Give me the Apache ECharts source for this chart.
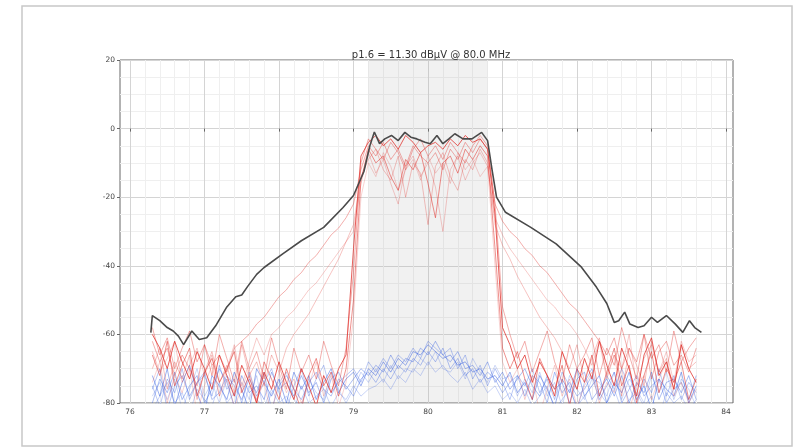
<!DOCTYPE html>
<html><head><meta charset="utf-8">
<script src="https://cdn.jsdelivr.net/npm/echarts@6/dist/echarts.min.js"></script>
<style>html,body{margin:0;padding:0;background:#fff}#c{width:793px;height:448px}</style>
</head><body><div id="c"></div>
<script>
const titleText = 'p1.6 = 11.30 dBµV @ 80.0 MHz';
const xTicks = [76, 77, 78, 79, 80, 81, 82, 83, 84];
const yTicks = [-80, -60, -40, -20, 0, 20];
const band = [79.2, 80.8];

const envFreq = [76.28,76.30,76.40,76.50,76.58,76.65,76.72,76.83,76.93,77.03,77.15,77.30,77.42,77.50,77.58,77.70,77.80,78.05,78.30,78.60,78.86,79.00,79.14,79.22,79.28,79.35,79.42,79.51,79.60,79.69,79.77,79.85,79.96,80.03,80.12,80.20,80.28,80.36,80.47,80.59,80.72,80.80,80.86,80.92,81.04,81.38,81.72,82.06,82.26,82.40,82.50,82.56,82.64,82.71,82.82,82.90,83.00,83.08,83.20,83.32,83.42,83.51,83.58,83.67];
const envVal = [-59.5,-54.5,-56,-58,-59,-60.5,-63,-59,-61.5,-61,-57.5,-52,-49,-48.5,-46,-42.5,-40.5,-36.5,-32.7,-28.8,-23,-19.5,-12.5,-5,-1,-4.4,-3,-2,-3.5,-1.1,-2.5,-3,-4,-4.4,-2,-4.4,-3,-1.5,-3,-3,-1.1,-3.5,-12,-20,-24.4,-28.8,-33.6,-40.4,-46.2,-51,-56.5,-56,-53.5,-57,-58,-57.5,-55,-56.5,-54.5,-57,-59.4,-56,-58,-59.4];

const freqs = [76.3,76.4,76.5,76.6,76.7,76.8,76.9,77.0,77.1,77.2,77.3,77.4,77.5,77.6,77.7,77.8,77.9,78.0,78.1,78.2,78.3,78.4,78.5,78.6,78.7,78.8,78.9,79.0,79.1,79.2,79.3,79.4,79.5,79.6,79.7,79.8,79.9,80.0,80.1,80.2,80.3,80.4,80.5,80.6,80.7,80.8,80.9,81.0,81.1,81.2,81.3,81.4,81.5,81.6,81.7,81.8,81.9,82.0,82.1,82.2,82.3,82.4,82.5,82.6,82.7,82.8,82.9,83.0,83.1,83.2,83.3,83.4,83.5,83.6];

const red1 = [-60,-64,-70,-62,-68,-73,-65,-70,-76,-66,-72,-78,-69,-74,-80,-71,-76,-68,-74,-79,-70,-75,-81,-72,-77,-70,-66,-35,-8,-4,-2,-5,-3,-6,-2,-4,-7,-5,-4,-6,-3,-5,-2,-4,-3,-6,-25,-58,-63,-70,-66,-74,-68,-72,-78,-65,-71,-76,-67,-73,-62,-69,-75,-64,-70,-78,-66,-61,-72,-68,-76,-63,-70,-74];
const red2 = [-66,-72,-62,-75,-69,-64,-78,-71,-67,-74,-70,-65,-77,-72,-80,-68,-73,-79,-70,-76,-82,-72,-67,-75,-71,-78,-70,-50,-15,-6,-10,-8,-14,-18,-9,-12,-7,-16,-26,-10,-8,-13,-6,-9,-5,-8,-35,-64,-70,-65,-73,-79,-67,-72,-76,-69,-81,-70,-74,-66,-78,-71,-64,-75,-69,-80,-72,-65,-77,-70,-74,-68,-79,-73];
const red3 = [-62,-68,-64,-72,-66,-70,-75,-63,-69,-66,-71,-64,-62,-60,-57,-55,-52,-49,-47,-44,-42,-39,-37,-34,-31,-29,-26,-22,-12,-5,-8,-4,-9,-6,-11,-5,-8,-10,-7,-12,-6,-9,-4,-7,-3,-6,-22,-27,-30,-32,-35,-37,-40,-42,-45,-48,-51,-53,-56,-59,-62,-66,-61,-70,-64,-68,-60,-73,-65,-62,-69,-66,-71,-64];
const red4 = [-70,-64,-76,-68,-73,-66,-79,-71,-65,-74,-69,-77,-63,-72,-68,-75,-66,-71,-64,-60,-57,-54,-50,-46,-42,-38,-33,-28,-14,-9,-6,-12,-15,-8,-20,-10,-13,-28,-11,-7,-14,-18,-9,-12,-6,-10,-28,-34,-38,-43,-47,-51,-55,-58,-61,-65,-70,-63,-74,-67,-61,-72,-66,-78,-64,-69,-75,-62,-71,-67,-76,-63,-70,-68];
const red5 = [-65,-71,-67,-62,-74,-69,-64,-72,-66,-78,-70,-63,-75,-68,-61,-66,-60,-58,-55,-53,-50,-47,-45,-42,-39,-36,-33,-30,-16,-7,-13,-9,-16,-22,-11,-8,-14,-10,-17,-30,-12,-8,-15,-10,-7,-11,-26,-31,-35,-38,-41,-44,-47,-50,-52,-55,-57,-60,-64,-69,-62,-73,-66,-70,-60,-75,-67,-63,-71,-65,-74,-62,-68,-66];
const red6 = [-74,-68,-80,-72,-77,-70,-83,-75,-69,-78,-73,-81,-76,-70,-79,-74,-84,-71,-77,-73,-80,-75,-68,-78,-72,-81,-74,-55,-20,-10,-14,-7,-11,-18,-12,-9,-15,-8,-13,-10,-16,-7,-12,-9,-14,-11,-40,-68,-74,-70,-79,-72,-83,-76,-69,-78,-73,-81,-75,-71,-80,-74,-77,-70,-82,-75,-72,-79,-73,-68,-78,-74,-80,-76];
const red7 = [-58,-66,-61,-70,-64,-59,-68,-63,-72,-60,-67,-74,-62,-70,-65,-73,-61,-69,-76,-64,-71,-66,-73,-62,-69,-75,-64,-42,-10,-3,-6,-9,-4,-7,-12,-6,-3,-8,-5,-9,-4,-7,-10,-5,-2,-5,-22,-52,-60,-67,-62,-71,-65,-59,-68,-74,-63,-70,-66,-61,-72,-64,-69,-58,-66,-73,-60,-67,-63,-71,-59,-68,-64,-61];

const blue1 = [-72,-78,-70,-81,-74,-69,-77,-83,-72,-75,-79,-71,-76,-82,-70,-74,-78,-73,-80,-71,-76,-72,-79,-74,-70,-77,-73,-71,-75,-70,-72,-68,-71,-67,-69,-65,-66,-63,-65,-67,-66,-69,-68,-71,-70,-73,-72,-75,-71,-77,-74,-79,-72,-76,-81,-73,-77,-70,-78,-75,-72,-80,-74,-77,-71,-79,-75,-82,-73,-76,-78,-71,-80,-75];
const blue2 = [-80,-73,-77,-71,-79,-75,-72,-80,-76,-70,-74,-81,-72,-77,-75,-79,-71,-76,-74,-78,-72,-77,-74,-80,-73,-71,-76,-73,-70,-72,-69,-71,-66,-70,-67,-68,-64,-66,-62,-66,-68,-65,-70,-69,-72,-68,-74,-71,-76,-73,-70,-75,-78,-72,-76,-74,-80,-73,-71,-79,-76,-73,-78,-72,-80,-74,-77,-71,-79,-74,-73,-77,-72,-79];
const blue3 = [-76,-70,-82,-75,-72,-78,-74,-71,-79,-77,-72,-75,-79,-73,-77,-71,-82,-75,-72,-76,-79,-74,-71,-76,-78,-73,-75,-78,-73,-71,-74,-70,-73,-69,-71,-67,-69,-65,-68,-64,-70,-67,-72,-70,-74,-71,-73,-77,-74,-72,-78,-72,-74,-80,-71,-77,-74,-78,-76,-72,-79,-75,-71,-80,-76,-72,-78,-75,-73,-80,-76,-74,-79,-72];
const blue4 = [-82,-78,-74,-80,-77,-83,-76,-79,-81,-74,-80,-77,-83,-75,-79,-81,-76,-80,-78,-82,-75,-80,-78,-76,-81,-77,-79,-75,-78,-76,-75,-73,-76,-72,-74,-70,-72,-68,-71,-69,-72,-74,-71,-76,-73,-77,-75,-79,-77,-80,-76,-81,-78,-75,-82,-79,-76,-81,-78,-83,-77,-80,-76,-82,-79,-77,-81,-78,-84,-77,-80,-78,-82,-79];
const blue5 = [-75,-81,-73,-77,-70,-79,-74,-72,-78,-69,-76,-73,-80,-71,-78,-74,-70,-77,-82,-75,-70,-78,-73,-69,-77,-74,-72,-70,-74,-68,-71,-67,-70,-66,-68,-64,-67,-62,-64,-66,-64,-70,-66,-73,-69,-75,-70,-74,-79,-72,-75,-70,-77,-73,-79,-71,-75,-82,-74,-70,-78,-72,-76,-70,-75,-81,-73,-77,-70,-78,-72,-79,-74,-77];
const blue6 = [-78,-74,-79,-73,-82,-76,-70,-78,-74,-80,-73,-78,-74,-79,-72,-83,-77,-74,-71,-79,-81,-73,-77,-79,-71,-76,-80,-76,-71,-74,-70,-74,-69,-73,-70,-71,-67,-69,-65,-70,-71,-68,-73,-67,-71,-74,-69,-73,-72,-78,-73,-77,-71,-78,-74,-81,-72,-76,-79,-73,-74,-78,-71,-79,-73,-76,-80,-72,-77,-71,-79,-73,-76,-81];

const reds = [[red1,0.8],[red2,0.55],[red7,0.4],[red3,0.4],[red4,0.3],[red5,0.26],[red6,0.22]];
const blues = [[blue1,0.5],[blue2,0.42],[blue3,0.38],[blue5,0.35],[blue4,0.28],[blue6,0.25]];

const chart = echarts.init(document.getElementById('c'), null, {renderer:'canvas'});
const pair = (xs, ys) => xs.map((x,i)=>[x, ys[i]]);
const series = [];
series.push({type:'line', xAxisIndex:0, yAxisIndex:0, data:[], silent:true, z:1,
  markArea:{silent:true, itemStyle:{color:'rgba(170,170,170,0.17)'}, data:[[{xAxis:band[0]},{xAxis:band[1]}]]}});
blues.forEach(([v,a])=>series.push({type:'line', xAxisIndex:0, yAxisIndex:0, data:pair(freqs,v), showSymbol:false, silent:true,
  lineStyle:{color:'rgba(60,100,225,'+a+')', width:1}, z:3}));
reds.forEach(([v,a])=>series.push({type:'line', xAxisIndex:0, yAxisIndex:0, data:pair(freqs,v), showSymbol:false, silent:true,
  lineStyle:{color:'rgba(225,55,50,'+a+')', width:1}, z:4}));
series.push({type:'line', xAxisIndex:0, yAxisIndex:0, data:pair(envFreq,envVal), showSymbol:false, silent:true,
  lineStyle:{color:'#4a4a4a', width:1.6}, z:5});

const lbl = {fontSize:7.5, color:'#444', fontFamily:'DejaVu Sans'};
chart.setOption({
  animation:false,
  backgroundColor:'#fff',
  title:{text:titleText, left:426, top:45, textAlign:'center', textStyle:{fontSize:10, fontWeight:'normal', color:'#333', fontFamily:'DejaVu Sans'}},
  graphic:[{type:'rect', shape:{x:22, y:6, width:770, height:440}, style:{fill:'none', stroke:'#c8c8c8', lineWidth:1.5}, silent:true}],
  grid:[
    {left:120, right:60, top:60, bottom:45, show:true, borderColor:'#666', borderWidth:1, backgroundColor:'transparent'},
    {left:130, right:67, top:60, bottom:45, show:false}
  ],
  xAxis:[
    {type:'value', gridIndex:0, min:75.866, max:84.094, show:true, axisLine:{show:false}, axisTick:{show:false}, axisLabel:{show:false}, splitLine:{show:false}},
    {type:'value', gridIndex:1, min:xTicks[0], max:xTicks[xTicks.length-1], interval:1, axisLine:{show:false},
      axisTick:{show:true, inside:false, length:3, lineStyle:{color:'#666'}},
      axisLabel:{...lbl, margin:5, formatter:v=>String(v)},
      splitLine:{show:true, lineStyle:{color:'#d4d4d4', width:1}},
      minorTick:{show:false, splitNumber:5},
      minorSplitLine:{show:true, lineStyle:{color:'#efefef', width:1}}}
  ],
  yAxis:[
    {type:'value', gridIndex:0, min:yTicks[0], max:yTicks[yTicks.length-1], interval:20, axisLine:{show:false},
      axisTick:{show:true, inside:false, length:3, lineStyle:{color:'#666'}},
      axisLabel:{...lbl, margin:5},
      splitLine:{show:true, lineStyle:{color:'#d4d4d4', width:1}},
      minorTick:{show:false, splitNumber:4},
      minorSplitLine:{show:true, lineStyle:{color:'#efefef', width:1}}},
    {type:'value', gridIndex:1, min:-80, max:20, show:false, splitLine:{show:false}}
  ],
  series:series
});
</script></body></html>
